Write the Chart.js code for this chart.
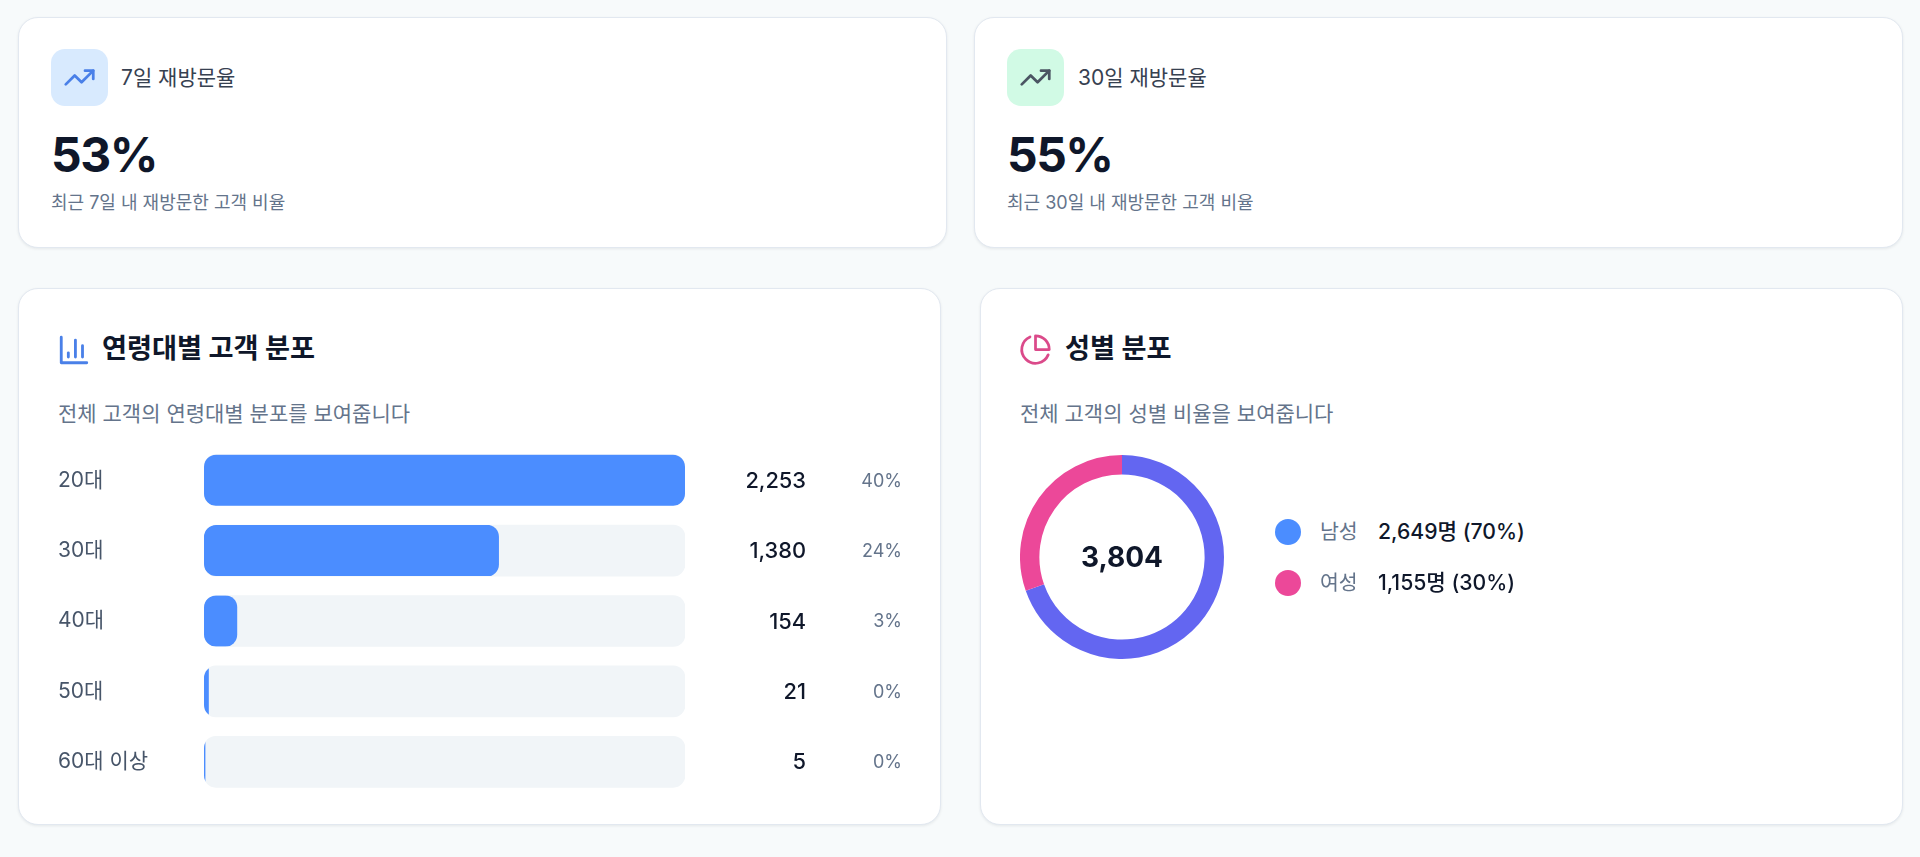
<!DOCTYPE html>
<html lang="ko">
<head>
<meta charset="utf-8">
<title>고객 분포</title>
<script src="https://cdn.jsdelivr.net/npm/chart.js@4/dist/chart.umd.min.js"></script>
<style>
  html, body { margin: 0; padding: 0; width: 1920px; height: 857px; overflow: hidden; background: #f7fafb; }
  body { font-family: Inter, "Noto Sans CJK KR", sans-serif; color: #0f172a; position: relative; }
  .card { position: absolute; box-sizing: border-box; background: #fff; border: 1px solid #e2e8f0; border-radius: 20px; box-shadow: 0 1px 3px rgba(15, 23, 42, .08); }
  .abs { position: absolute; white-space: nowrap; line-height: 1; }
  .icon-box { position: absolute; width: 57px; height: 57px; border-radius: 14px; display: flex; align-items: center; justify-content: center; }
  svg { fill: none; stroke-width: 2; stroke-linecap: round; stroke-linejoin: round; }
  .kpi-title { font-size: 21px; color: #374151; }
  .kpi-value { font-size: 48px; font-weight: 700; letter-spacing: -1.5px; }
  .kpi-sub { font-size: 18px; color: #64748b; }
  .sec-title { font-size: 27.2px; font-weight: 700; }
  .sec-sub { font-size: 21px; color: #64748b; }
  .dot { position: absolute; width: 26px; height: 26px; border-radius: 50%; }
  .leg-name { font-size: 20.5px; color: #64748b; }
  .leg-val { font-size: 21.2px; font-weight: 500; color: #0f172a; }
  canvas { position: absolute; display: block; }
</style>
</head>
<body>
  <div class="card" style="left:18px;top:17px;width:929px;height:231px"></div>
  <div class="card" style="left:974px;top:17px;width:929px;height:231px"></div>
  <div class="card" style="left:18px;top:288px;width:923px;height:537px"></div>
  <div class="card" style="left:980px;top:288px;width:923px;height:537px"></div>

  <div class="icon-box" style="left:51px;top:49px;background:#d8eafe">
    <svg width="33" height="33" viewBox="0 0 24 24" stroke="#4a80e8"><polyline points="22 7 13.5 15.5 8.5 10.5 2 17"/><polyline points="16 7 22 7 22 13"/></svg>
  </div>
  <div class="abs kpi-title" id="kpi1_title" style="left:121px;top:67px"></div>
  <div class="abs kpi-value" id="kpi1_value" style="left:51px;top:131px"></div>
  <div class="abs kpi-sub" id="kpi1_sub" style="left:51px;top:194px"></div>

  <div class="icon-box" style="left:1007px;top:49px;background:#d1fae5">
    <svg width="33" height="33" viewBox="0 0 24 24" stroke="#4b5563"><polyline points="22 7 13.5 15.5 8.5 10.5 2 17"/><polyline points="16 7 22 7 22 13"/></svg>
  </div>
  <div class="abs kpi-title" id="kpi2_title" style="left:1078px;top:67px"></div>
  <div class="abs kpi-value" id="kpi2_value" style="left:1007px;top:131px"></div>
  <div class="abs kpi-sub" id="kpi2_sub" style="left:1007px;top:194px"></div>

  <svg class="abs" style="left:56.5px;top:332.5px" width="34" height="34" viewBox="0 0 24 24" stroke="#4a80e8"><path d="M3 3v18h18"/><path d="M18 17V9"/><path d="M13 17V5"/><path d="M8 17v-3"/></svg>
  <div class="abs sec-title" id="age_title" style="left:102px;top:335px"></div>
  <div class="abs sec-sub" id="age_sub" style="left:58px;top:403px"></div>
  <canvas id="ageChart" style="left:58px;top:445px"></canvas>

  <svg class="abs" style="left:1019px;top:333px" width="33" height="33" viewBox="0 0 24 24" stroke="#db4a8a"><path d="M21.21 15.89A10 10 0 1 1 8 2.83"/><path d="M22 12A10 10 0 0 0 12 2v10z"/></svg>
  <div class="abs sec-title" id="gender_title" style="left:1065px;top:335px"></div>
  <div class="abs sec-sub" id="gender_sub" style="left:1020px;top:403px"></div>
  <canvas id="genderChart" style="left:1020px;top:455px"></canvas>
  <div class="abs" id="gender_total" style="left:1020px;width:204px;top:543px;text-align:center;font-size:28px;font-weight:700"></div>

  <div class="dot" id="dot_0" style="left:1275px;top:519px"></div>
  <div class="abs leg-name" id="leg_name_0" style="left:1320px;top:522px"></div>
  <div class="abs leg-val" id="leg_val_0" style="left:1378px;top:521px"></div>
  <div class="dot" id="dot_1" style="left:1275px;top:570px"></div>
  <div class="abs leg-name" id="leg_name_1" style="left:1320px;top:573px"></div>
  <div class="abs leg-val" id="leg_val_1" style="left:1378px;top:572px"></div>

<script>
// --- Datos ---
const ageLabels = ['20대', '30대', '40대', '50대', '60대 이상'];
const ageCounts = [2253, 1380, 154, 21, 5];
const agePercents = [40, 24, 3, 0, 0];

const genderLabels = ['남성', '여성'];
const genderCounts = [2649, 1155];
const genderPercents = [70, 30];
const genderTotal = 3804;

const revisitTitles = ['7일 재방문율', '30일 재방문율'];
const revisitValues = [53, 55];
const revisitNotes = ['최근 7일 내 재방문한 고객 비율', '최근 30일 내 재방문한 고객 비율'];

const FONT = 'Inter, "Noto Sans CJK KR", sans-serif';
const BLUE = '#4b8dff';

function setText(id, text) {
  document.getElementById(id).textContent = text;
}

/**
 * Textos fuera de las gráficas.
 */
function renderTexts() {
  revisitTitles.forEach((title, i) => {
    setText(`kpi${i + 1}_title`, title);
    setText(`kpi${i + 1}_value`, `${revisitValues[i]}%`);
    setText(`kpi${i + 1}_sub`, revisitNotes[i]);
  });
  setText('age_title', '연령대별 고객 분포');
  setText('age_sub', '전체 고객의 연령대별 분포를 보여줍니다');
  setText('gender_title', '성별 분포');
  setText('gender_sub', '전체 고객의 성별 비율을 보여줍니다');
  setText('gender_total', genderTotal.toLocaleString('en-US'));

  const dotColors = [BLUE, '#ec4899'];
  genderLabels.forEach((label, i) => {
    document.getElementById(`dot_${i}`).style.background = dotColors[i];
    setText(`leg_name_${i}`, label);
    setText(`leg_val_${i}`, `${genderCounts[i].toLocaleString('en-US')}명 (${genderPercents[i]}%)`);
  });
}

// Recorta las barras azules a la forma redondeada de su pista
const clipToTrack = {
  id: 'clipToTrack',
  beforeDatasetDraw(chart, args) {
    if (args.index !== 0) return;
    const { ctx } = chart;
    ctx.save();
    ctx.beginPath();
    chart.getDatasetMeta(1).data.forEach(bar => {
      ctx.roundRect(bar.base, bar.y - bar.height / 2, bar.x - bar.base, bar.height, 12);
    });
    ctx.clip();
  },
  afterDatasetDraw(chart, args) {
    if (args.index === 0) chart.ctx.restore();
  }
};

// Cantidad y porcentaje a la derecha de cada fila
const rowValues = {
  id: 'rowValues',
  afterDatasetsDraw(chart) {
    const { ctx, scales } = chart;
    ctx.save();
    ctx.textAlign = 'right';
    ctx.textBaseline = 'middle';
    ageCounts.forEach((count, i) => {
      const y = scales.y.getPixelForValue(i) + 1;
      ctx.fillStyle = '#0f172a';
      ctx.font = `500 21.8px ${FONT}`;
      ctx.fillText(count.toLocaleString('en-US'), scales.x.right + 121, y);
      ctx.fillStyle = '#64748b';
      ctx.font = `400 18px ${FONT}`;
      ctx.fillText(`${agePercents[i]}%`, scales.x.right + 217, y);
    });
    ctx.restore();
  }
};

function renderAgeChart() {
  const canvas = document.getElementById('ageChart');
  canvas.width = 862;
  canvas.height = 352;

  new Chart(canvas, {
    type: 'bar',
    data: {
      labels: ageLabels,
      datasets: [
        {
          data: ageCounts,
          backgroundColor: BLUE,
          borderRadius: 12,
          borderSkipped: false,
          barThickness: 51,
          grouped: false
        },
        {
          data: ageCounts.map(() => ageCounts[0]),
          backgroundColor: '#f1f5f8',
          borderRadius: 12,
          borderSkipped: false,
          barThickness: 51,
          grouped: false
        }
      ]
    },
    options: {
      indexAxis: 'y',
      responsive: false,
      animation: false,
      layout: { padding: { right: 235 } },
      scales: {
        x: { display: false, min: 0, max: ageCounts[0] },
        y: {
          afterFit: scale => {
            scale.width = 146;
            scale.paddingTop = 0;
            scale.paddingBottom = 0;
          },
          grid: { display: false },
          border: { display: false },
          ticks: {
            crossAlign: 'far',
            color: '#475569',
            font: { family: FONT, size: 21 }
          }
        }
      },
      plugins: { legend: { display: false }, tooltip: { enabled: false } }
    },
    plugins: [clipToTrack, rowValues]
  });
}

function renderGenderChart() {
  const canvas = document.getElementById('genderChart');
  canvas.width = 204;
  canvas.height = 204;

  new Chart(canvas, {
    type: 'doughnut',
    data: {
      labels: genderLabels,
      datasets: [{
        data: genderCounts,
        backgroundColor: ['#6366f1', '#ec4899'],
        borderWidth: 0
      }]
    },
    options: {
      responsive: false,
      animation: false,
      cutout: '81%',
      plugins: { legend: { display: false }, tooltip: { enabled: false } }
    }
  });
}

// --- Inicialización ---
renderTexts();
renderAgeChart();
renderGenderChart();
</script>
</body>
</html>
